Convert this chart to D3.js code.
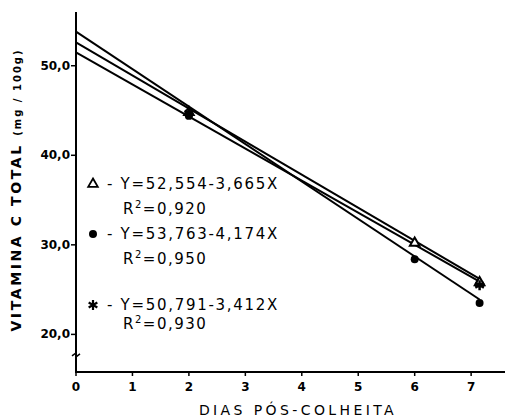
<!DOCTYPE html>
<html>
<head>
<meta charset="utf-8">
<script src="https://cdn.jsdelivr.net/npm/d3@7"></script>
<style>
  body { margin: 0; background: #fff; }
  svg { display: block; font-family: 'DejaVu Sans', sans-serif; }
</style>
</head>
<body>
<svg id="chart" width="506" height="420"></svg>
<script>
// ── Data ──────────────────────────────────────────────────────────────────────
const xTicks = [0, 1, 2, 3, 4, 5, 6, 7];
const yTicks = [20, 30, 40, 50];

// observed points (days, mg/100g)
const triDays = [2, 6, 7.15];
const triVals = [44.8, 30.2, 25.8];
const dotDays = [2, 6, 7.15];
const dotVals = [44.4, 28.4, 23.5];
const starDays = [2, 7.15];
const starVals = [44.7, 25.5];

// fitted lines: [start, end] as [day, value]
const triFit  = [[0, 52.6], [7.15, 26.2]];
const dotFit  = [[0, 53.8], [7.15, 23.9]];
const starFit = [[0, 51.5], [7.15, 25.9]];

const legendEq = ['- Y=52,554-3,665X', '- Y=53,763-4,174X', '- Y=50,791-3,412X'];
const legendR2 = ['0,920', '0,950', '0,930'];

// ── Scales ────────────────────────────────────────────────────────────────────
const svg = d3.select('#chart');
const x = d3.scaleLinear().domain([0, 7.6]).range([76, 505]);
const y = d3.scaleLinear().domain([15.8, 56]).range([372, 12]);

const ink = '#000';

// axes
svg.append('line')
  .attr('x1', x(0)).attr('x2', x(0))
  .attr('y1', y(56)).attr('y2', y(15.8))
  .attr('stroke', ink).attr('stroke-width', 2);
svg.append('line')
  .attr('x1', x(0) - 1).attr('x2', x(7.6))
  .attr('y1', y(15.8)).attr('y2', y(15.8))
  .attr('stroke', ink).attr('stroke-width', 2);

// axis break mark
svg.append('path')
  .attr('d', `M${x(0) - 4},${y(17.6)} l4,-3 l0,4 l4,-3`)
  .attr('fill', 'none').attr('stroke', ink).attr('stroke-width', 1.5);

// y ticks
const yt = svg.append('g');
yTicks.forEach(v => {
  yt.append('line')
    .attr('x1', x(0) - 5).attr('x2', x(0))
    .attr('y1', y(v)).attr('y2', y(v))
    .attr('stroke', ink).attr('stroke-width', 1.5);
  yt.append('text')
    .attr('x', x(0) - 6).attr('y', y(v) + 4)
    .attr('text-anchor', 'end')
    .attr('font-size', 12).attr('font-weight', 'bold')
    .text(d3.format('.1f')(v).replace('.', ','));
});

// x ticks
const xt = svg.append('g');
xTicks.forEach(v => {
  xt.append('line')
    .attr('x1', x(v)).attr('x2', x(v))
    .attr('y1', y(15.8)).attr('y2', y(15.8) + 4)
    .attr('stroke', ink).attr('stroke-width', 1.5);
  xt.append('text')
    .attr('x', x(v)).attr('y', y(15.8) + 19)
    .attr('text-anchor', 'middle')
    .attr('font-size', 12).attr('font-weight', 'bold')
    .text(v);
});

// axis labels
svg.append('text')
  .attr('x', 298).attr('y', 415)
  .attr('text-anchor', 'middle')
  .attr('font-size', 14).attr('letter-spacing', 3.4)
  .text('DIAS PÓS-COLHEITA');

const yl = svg.append('text')
  .attr('transform', 'translate(21,190) rotate(-90)')
  .attr('text-anchor', 'middle')
  .attr('font-size', 14).attr('font-weight', 'bold').attr('letter-spacing', 2.6);
yl.append('tspan').text('VITAMINA C TOTAL ');
yl.append('tspan').attr('font-size', 10).attr('letter-spacing', 2).text('(mg / 100g)');

// ── Lines ─────────────────────────────────────────────────────────────────────
const line = d3.line().x(d => x(d[0])).y(d => y(d[1]));
[triFit, dotFit, starFit].forEach(f => {
  svg.append('path')
    .attr('d', line(f))
    .attr('fill', 'none').attr('stroke', ink).attr('stroke-width', 2);
});

// ── Markers ───────────────────────────────────────────────────────────────────
const tri = d3.symbol().type(d3.symbolTriangle).size(40);
const dot = d3.symbol().type(d3.symbolCircle).size(50);
const star = d3.symbol().type(d3.symbolAsterisk).size(70);

triDays.forEach((d, i) => {
  svg.append('path').attr('d', tri())
    .attr('transform', `translate(${x(d)},${y(triVals[i])})`)
    .attr('fill', '#fff').attr('stroke', ink).attr('stroke-width', 2);
});
dotDays.forEach((d, i) => {
  svg.append('path').attr('d', dot())
    .attr('transform', `translate(${x(d)},${y(dotVals[i])})`)
    .attr('fill', ink);
});
starDays.forEach((d, i) => {
  svg.append('path').attr('d', star())
    .attr('transform', `translate(${x(d)},${y(starVals[i])})`)
    .attr('fill', 'none').attr('stroke', ink).attr('stroke-width', 2.5);
});

// ── Legend ────────────────────────────────────────────────────────────────────
const legY = [189, 239, 310];
const legSym = [tri, dot, star];
legY.forEach((ly, i) => {
  const s = svg.append('path').attr('d', legSym[i]())
    .attr('transform', `translate(93,${ly - 5})`);
  if (i === 0) s.attr('fill', '#fff').attr('stroke', ink).attr('stroke-width', 1.8);
  else if (i === 1) s.attr('fill', ink);
  else s.attr('fill', 'none').attr('stroke', ink).attr('stroke-width', 2.2);

  svg.append('text')
    .attr('x', 107).attr('y', ly)
    .attr('font-size', 15).attr('letter-spacing', 1.7)
    .text(legendEq[i]);

  const r = svg.append('text')
    .attr('x', 123).attr('y', ly + (i === 2 ? 19 : 25))
    .attr('font-size', 15).attr('letter-spacing', 1.5);
  r.append('tspan').text('R');
  r.append('tspan').attr('font-size', 10).attr('dy', -6).text('2');
  r.append('tspan').attr('dy', 6).text('=' + legendR2[i]);
});
</script>
</body>
</html>
